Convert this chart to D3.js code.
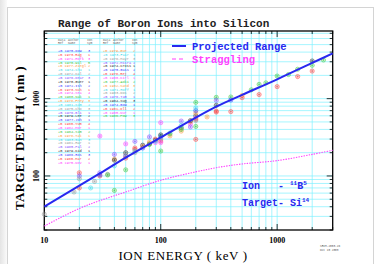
<!DOCTYPE html>
<html>
<head>
<meta charset="utf-8">
<script src="https://cdn.jsdelivr.net/npm/d3@7"></script>
<style>
  body { margin: 0; background: #fff; }
  svg { display: block; }
  text { white-space: pre; }
</style>
</head>
<body>
<div id="chart"></div>
<script>
// curve values (keV -> nm)
const curveEnergy = [10, 20, 30, 50, 100, 200, 300, 500, 1000, 2000, 3000];
const rangeDepth = [40, 75, 108, 173, 315, 570, 790, 1120, 1780, 2900, 3850];
const straggleDepth = [22.5, 38, 48, 62, 88, 113, 128, 143, 158, 190, 215];

// measured points: energy, depth, colour group
const measEnergy = [10, 18, 20, 20, 20, 20, 25, 27, 30, 30, 30, 30, 35, 35,
  40, 40, 40, 40, 40, 50, 50, 50, 50, 50, 50, 60, 60, 60, 60, 60,
  70, 70, 70, 80, 80, 80, 80, 90, 90, 90, 90,
  100, 100, 100, 100, 100, 100, 100, 100, 120, 120, 120,
  150, 150, 150, 150, 150, 180, 180, 180, 180,
  200, 200, 200, 200, 200, 200, 200, 200, 200, 200, 250,
  300, 300, 300, 300, 300, 400, 400, 400, 500, 500, 600, 700, 700, 800,
  1000, 1000, 1250, 1500, 1500, 2000, 2000, 2000, 2500];
const measDepth = [32, 62, 110, 100, 70, 92, 70, 85, 110, 100, 103, 328, 105, 103,
  65, 135, 165, 190, 160, 200, 180, 120, 260, 170, 190, 280, 230, 220, 210, 200,
  230, 250, 240, 320, 260, 275, 255, 290, 270, 300, 280,
  490, 210, 283, 320, 300, 330, 270, 340, 360, 330, 350,
  513, 420, 450, 380, 400, 470, 500, 520, 430,
  297, 895, 437, 600, 650, 700, 560, 540, 760, 520, 580,
  1040, 690, 670, 820, 950, 1050, 680, 960, 1100, 1030, 1300, 1130, 1530, 1600,
  1430, 1960, 2050, 1930, 2400, 3070, 2275, 2700, 3160];
const measGroup = [6, 6, 1, 7, 1, 6, 5, 6, 7, 1, 0, 2, 6, 3,
  3, 5, 4, 7, 8, 8, 0, 3, 2, 1, 6, 7, 1, 1, 5, 6,
  0, 8, 4, 7, 8, 4, 3, 8, 2, 1, 5,
  2, 3, 1, 0, 6, 5, 2, 8, 5, 4, 3,
  7, 8, 5, 4, 3, 2, 4, 8, 7,
  1, 3, 3, 8, 4, 0, 2, 1, 5, 6, 4,
  3, 1, 1, 8, 7, 3, 1, 0, 4, 1, 3, 1, 3, 3,
  1, 3, 3, 1, 3, 8, 1, 3, 3];

const palette = ["#4040ff", "#ff4040", "#ff40ff", "#40c840", "#ff9a40",
  "#40d8e8", "#9a9a9a", "#8a50ff", "#303030"];

// legend table (tiny text)
const legendHead1 = ["Data", "Author", "Ion"];
const legendHead2 = ["Ref", "Name", "Sym"];
const legendNamesA = ["1975-Dow", "1973-Rag", "1971-Hofk", "1970-Wil", "1977-Ziegl",
  "1974-Chu", "1972-Kal", "1976-Dear", "1970-Guer", "1972-Ish", "1973-Sch",
  "1974-Sea", "1980-Nak", "1978-Frey", "1981-Kim", "1975-Cho", "1976-Bli",
  "1979-Lee", "1977-Joh", "1980-Yum", "1982-Mor", "1984-Sim", "1978-Tak",
  "1983-Ban", "1981-Har", "1985-Pal", "1979-Kid", "1986-Ros", "1980-Mar", "1975-Nov"];
const legendNamesB = ["1979-Gue", "1973-Fair", "1976-Mayr", "1972-Misra", "1974-Cross",
  "1975-Gass", "1978-Rej", "1980-Kirl", "1977-Aoki", "1982-Sand", "1971-Hoff",
  "1983-Dos", "1976-Tam", "1984-Sug", "1974-Bow", "1981-Oll", "1985-Nur", "1986-Pow"];
const legendCountA = ["3", "1", "3", "5", "2", "1", "2", "3", "1", "2", "1",
  "4", "1", "3", "2", "3", "1", "2", "1", "4", "1", "2", "1", "3", "1",
  "2", "1", "3", "2", "1"];
const legendCountB = ["2", "1", "3", "2", "1", "2", "4", "1", "2", "3", "1",
  "2", "1", "3", "1", "2", "1", "3"];

const W = 381, H = 264;
const svg = d3.select("#chart").append("svg")
  .attr("width", W).attr("height", H)
  .attr("font-family", "Liberation Mono, DejaVu Sans Mono, monospace");

// page frame with a soft edge on the left
const grad = svg.append("defs").append("linearGradient").attr("id", "edge");
grad.append("stop").attr("offset", "0%").attr("stop-color", "#e4e4e4");
grad.append("stop").attr("offset", "100%").attr("stop-color", "#fafafa");
svg.append("rect").attr("x", 0).attr("y", 0).attr("width", 7).attr("height", H)
  .attr("fill", "url(#edge)");
svg.append("rect").attr("x", 7.5).attr("y", 7.5).attr("width", 366).attr("height", 300)
  .attr("fill", "#fff").attr("stroke", "#d4d4d4");

const x = d3.scaleLog().domain([10, 3000]).range([44.3, 332.7]);
const y = d3.scaleLog().domain([20, 7500]).range([230, 31]);

const xTicks = x.ticks();
const yTicks = y.ticks();
const isMajor = v => Math.abs(Math.log10(v) - Math.round(Math.log10(v))) < 1e-6;

// grid
const grid = svg.append("g").attr("stroke", "#80f0ff").attr("stroke-width", 0.7);
grid.selectAll(".gx").data(xTicks.filter(v => v > 10 && v < 3000)).join("line")
  .attr("x1", d => x(d)).attr("x2", d => x(d))
  .attr("y1", y.range()[0]).attr("y2", y.range()[1]);
grid.selectAll(".gy").data(yTicks.filter(v => v > 20 && v < 7500)).join("line")
  .attr("y1", d => y(d)).attr("y2", d => y(d))
  .attr("x1", x.range()[0]).attr("x2", x.range()[1]);

// ticks on all four sides, pointing in
const tk = svg.append("g").attr("stroke", "#000").attr("stroke-width", 0.8);
[[y.range()[0], -1], [y.range()[1], 1]].forEach(([yy, dir]) => {
  tk.selectAll(null).data(xTicks).join("line")
    .attr("x1", d => x(d)).attr("x2", d => x(d))
    .attr("y1", yy).attr("y2", d => yy + dir * (isMajor(d) ? 6 : 3));
});
[[x.range()[0], 1], [x.range()[1], -1]].forEach(([xx, dir]) => {
  tk.selectAll(null).data(yTicks).join("line")
    .attr("y1", d => y(d)).attr("y2", d => y(d))
    .attr("x1", xx).attr("x2", d => xx + dir * (isMajor(d) ? 6 : 3));
});

// frame
svg.append("rect")
  .attr("x", x.range()[0]).attr("y", y.range()[1])
  .attr("width", x.range()[1] - x.range()[0])
  .attr("height", y.range()[0] - y.range()[1])
  .attr("fill", "none").attr("stroke", "#000").attr("stroke-width", 1.3);

// tick labels
svg.append("g").attr("font-family", "Liberation Serif, serif").attr("font-size", 8)
  .attr("font-weight", "bold").attr("text-anchor", "middle")
  .selectAll("text").data(xTicks.filter(isMajor)).join("text")
  .attr("x", d => x(d)).attr("y", 243).text(d => d);
svg.append("g").attr("font-family", "Liberation Serif, serif").attr("font-size", 8)
  .attr("font-weight", "bold").attr("text-anchor", "middle")
  .selectAll("text").data(yTicks.filter(isMajor)).join("text")
  .attr("transform", d => `translate(39,${y(d)}) rotate(-90)`).text(d => d);

// axis titles
svg.append("text").attr("x", 183).attr("y", 260).attr("text-anchor", "middle")
  .attr("font-family", "Liberation Serif, serif").attr("font-size", 13)
  .attr("letter-spacing", 0.6).text("ION ENERGY ( keV )");
svg.append("text").attr("transform", "translate(24,138) rotate(-90)")
  .attr("text-anchor", "middle").attr("font-family", "Liberation Serif, serif")
  .attr("font-size", 13).attr("font-weight", "bold").attr("letter-spacing", 0.3)
  .text("TARGET DEPTH ( nm )");

// title
svg.append("text").attr("x", 58).attr("y", 27).attr("font-size", 11)
  .attr("font-weight", "bold").attr("fill", "#222")
  .text("Range of Boron Ions into Silicon");

// legend table
const tbl = svg.append("g").attr("font-size", 3.6);
const colX = [0, 10, 29];
[[58, legendNamesA, legendCountA, 0], [103, legendNamesB, legendCountB, 4]].forEach(([x0, names, counts, off]) => {
  legendHead1.forEach((h, i) => {
    tbl.append("text").attr("x", x0 + colX[i]).attr("y", 40.5).attr("font-size", 3)
      .attr("fill", "#666").text(h);
    tbl.append("text").attr("x", x0 + colX[i]).attr("y", 44).attr("font-size", 3)
      .attr("fill", "#666").text(legendHead2[i]);
  });
  names.forEach((n, i) => {
    const c = palette[(i + off) % palette.length];
    tbl.append("text").attr("x", x0).attr("y", 52 + i * 3.85).attr("fill", c)
      .text("+B " + n);
    tbl.append("text").attr("x", x0 + 30).attr("y", 52 + i * 3.85).attr("fill", c)
      .text(counts[i]);
  });
});

// measured points
const pts = svg.append("g");
measEnergy.forEach((e, i) => {
  const c = palette[measGroup[i]];
  const g = pts.append("g").attr("transform", `translate(${x(e)},${y(measDepth[i])})`);
  g.append("circle").attr("r", 2.1).attr("fill", c).attr("fill-opacity", 0.2)
    .attr("stroke", c).attr("stroke-width", 0.7).attr("stroke-opacity", 0.7);
  g.append("path").attr("d", "M-1,0H1M0,-1V1").attr("stroke", c).attr("stroke-width", 0.5);
});

// curves
const line = d3.line().x(d => x(d[0])).y(d => y(d[1])).curve(d3.curveCatmullRom.alpha(0.5));
svg.append("path").datum(curveEnergy.map((e, i) => [e, straggleDepth[i]]))
  .attr("d", line).attr("fill", "none").attr("stroke", "#ff40ff")
  .attr("stroke-width", 1.1).attr("stroke-dasharray", "1.4,1.2");
svg.append("path").datum(curveEnergy.map((e, i) => [e, rangeDepth[i]]))
  .attr("d", line).attr("fill", "none").attr("stroke", "#2828f0").attr("stroke-width", 2);

// legend
svg.append("line").attr("x1", 172).attr("x2", 186).attr("y1", 46).attr("y2", 46)
  .attr("stroke", "#2828f0").attr("stroke-width", 2);
svg.append("text").attr("x", 192).attr("y", 50).attr("font-size", 10.5)
  .attr("font-weight", "bold").attr("fill", "#2828f0").text("Projected Range");
svg.append("line").attr("x1", 172).attr("x2", 186).attr("y1", 59).attr("y2", 59)
  .attr("stroke", "#ff40ff").attr("stroke-width", 1.2).attr("stroke-dasharray", "4,3");
svg.append("text").attr("x", 192).attr("y", 63).attr("font-size", 10.5)
  .attr("font-weight", "bold").attr("fill", "#ff40ff").text("Straggling");

// ion / target note
const note = svg.append("g").attr("font-size", 10).attr("font-weight", "bold").attr("fill", "#2828f0");
const t1 = note.append("text").attr("x", 242).attr("y", 189);
t1.append("tspan").text("Ion   - ");
t1.append("tspan").attr("font-size", 6).attr("dy", -4).text("11");
t1.append("tspan").attr("dy", 4).text("B");
t1.append("tspan").attr("font-size", 6).attr("dy", -4).text("5");
const t2 = note.append("text").attr("x", 242).attr("y", 206);
t2.append("tspan").text("Target- Si");
t2.append("tspan").attr("font-size", 6).attr("dy", -4).text("14");

// stamp
svg.append("text").attr("x", 320).attr("y", 247).attr("font-size", 2.8).attr("fill", "#555").text("SRIM-2003.26");
svg.append("text").attr("x", 320).attr("y", 250.5).attr("font-size", 2.8).attr("fill", "#555").text("Oct 15 2003");
</script>
</body>
</html>
